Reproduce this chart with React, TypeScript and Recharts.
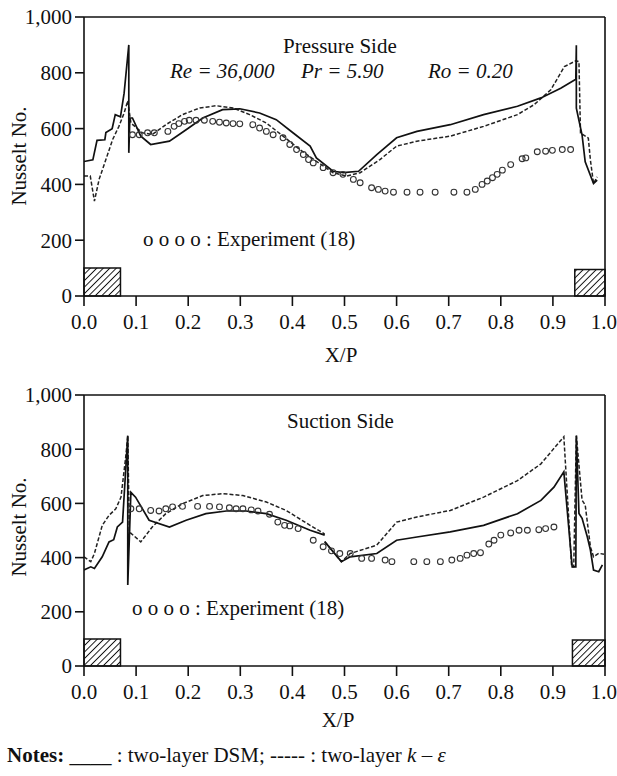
import React from "react";
import {
  ComposedChart,
  Line,
  Scatter,
  XAxis,
  YAxis,
  ReferenceArea,
  ReferenceLine,
} from "recharts";

type Pt = { x: number; y: number | null };
const P = (pairs: (number | null)[][]): Pt[] => pairs.map(([x, y]) => ({ x: x as number, y }));

// pressure side
const pressureDsm = P([
  [0, 482], [0.017, 488], [0.025, 558], [0.04, 560], [0.042, 586], [0.054, 600], [0.06, 650],
  [0.07, 642], [0.077, 727], [0.086, 900], [0.086, 513], [0.088, 638], [0.093, 638], [0.109, 573],
  [0.128, 543], [0.164, 555], [0.196, 596], [0.228, 638], [0.266, 668], [0.299, 671], [0.337, 656],
  [0.369, 632], [0.401, 585], [0.434, 537], [0.446, 495], [0.478, 447], [0.498, 442], [0.527, 447],
  [0.562, 507], [0.6, 567], [0.639, 590], [0.703, 614], [0.767, 650], [0.832, 680], [0.877, 710],
  [0.915, 745], [0.944, 777], [0.945, 899], [0.945, 673], [0.956, 577], [0.962, 481], [0.978, 403],
  [0.985, 415],
]);
const pressureKEps = P([
  [0, 430], [0.012, 430], [0.02, 340], [0.029, 418], [0.042, 489], [0.055, 561], [0.067, 608],
  [0.077, 656], [0.084, 700], [0.09, 620], [0.112, 585], [0.131, 579], [0.157, 614], [0.189, 650],
  [0.222, 674], [0.254, 682], [0.286, 674], [0.318, 650], [0.35, 620], [0.382, 573], [0.414, 525],
  [0.446, 483], [0.478, 442], [0.504, 430], [0.53, 442], [0.568, 489], [0.6, 537], [0.639, 555],
  [0.703, 573], [0.767, 608], [0.832, 650], [0.864, 686], [0.896, 739], [0.922, 822], [0.944, 843],
  [0.95, 840], [0.953, 584], [0.968, 566], [0.972, 487], [0.978, 403], [0.985, 427],
]);
const pressureExp = P([
  [0.093, 578], [0.106, 578], [0.122, 585], [0.135, 585], [0.161, 590], [0.173, 608], [0.182, 618],
  [0.193, 626], [0.202, 630], [0.215, 630], [0.231, 630], [0.247, 626], [0.26, 623], [0.273, 620],
  [0.286, 618], [0.299, 617], [0.324, 614], [0.337, 602], [0.35, 590], [0.363, 578], [0.382, 567],
  [0.395, 543], [0.408, 525], [0.421, 507], [0.431, 489], [0.44, 477], [0.459, 460], [0.478, 442],
  [0.497, 436], [0.517, 418], [0.53, 406], [0.552, 388], [0.565, 382], [0.578, 376], [0.594, 372],
  [0.62, 372], [0.645, 372], [0.674, 372], [0.71, 372], [0.735, 372], [0.751, 382], [0.764, 400],
  [0.774, 412], [0.784, 424], [0.793, 436], [0.803, 451], [0.819, 471], [0.841, 492], [0.848, 495],
  [0.87, 517], [0.886, 519], [0.899, 522], [0.918, 525], [0.934, 525],
]);

// suction side
const suctionDsm = P([
  [0, 354], [0.013, 366], [0.02, 360], [0.035, 403], [0.048, 458], [0.057, 466], [0.064, 513],
  [0.074, 531], [0.084, 850], [0.084, 299], [0.09, 641], [0.099, 623], [0.125, 538], [0.164, 513],
  [0.196, 538], [0.234, 562], [0.273, 572], [0.311, 572], [0.35, 562], [0.388, 538], [0.434, 501],
  [0.462, 483], [0.463, null], [0.462, 459], [0.494, 385], [0.511, 403], [0.562, 415], [0.6, 464],
  [0.639, 476], [0.703, 495], [0.767, 519], [0.832, 562], [0.877, 611], [0.902, 660], [0.921, 717],
  [0.937, 366], [0.944, 366], [0.945, 850], [0.95, 563], [0.956, 545], [0.966, 477], [0.972, 428],
  [0.978, 354], [0.988, 348], [0.995, 373],
]);
const suctionKEps = P([
  [0, 403], [0.013, 385], [0.02, 415], [0.035, 519], [0.048, 556], [0.061, 580], [0.071, 623],
  [0.08, 770], [0.084, 850], [0.087, 495], [0.109, 458], [0.131, 513], [0.157, 562], [0.189, 599],
  [0.228, 629], [0.266, 636], [0.305, 629], [0.35, 605], [0.388, 574], [0.434, 519], [0.462, 487],
  [0.463, null], [0.462, 459], [0.494, 385], [0.511, 415], [0.562, 446], [0.6, 531], [0.639, 550],
  [0.703, 574], [0.767, 623], [0.832, 684], [0.877, 746], [0.921, 846], [0.936, 366], [0.94, 366],
  [0.945, 850], [0.956, 612], [0.962, 594], [0.972, 440], [0.978, 403], [0.988, 416], [0.998, 412],
]);
const suctionExp = P([
  [0.09, 580], [0.106, 580], [0.128, 574], [0.144, 572], [0.157, 580], [0.17, 587], [0.189, 589],
  [0.218, 589], [0.241, 589], [0.26, 587], [0.279, 584], [0.292, 580], [0.305, 580], [0.321, 576],
  [0.334, 572], [0.356, 560], [0.372, 531], [0.385, 519], [0.395, 517], [0.411, 507], [0.44, 464],
  [0.459, 440], [0.475, 425], [0.491, 415], [0.511, 415], [0.533, 397], [0.552, 397], [0.578, 391],
  [0.591, 385], [0.633, 385], [0.658, 385], [0.684, 385], [0.706, 391], [0.722, 397], [0.735, 409],
  [0.748, 415], [0.761, 418], [0.777, 450], [0.787, 464], [0.8, 483], [0.819, 491], [0.835, 501],
  [0.851, 501], [0.873, 503], [0.886, 507], [0.902, 513],
]);

const xTicks = [0, 0.1, 0.2, 0.3, 0.4, 0.5, 0.6, 0.7, 0.8, 0.9, 1.0];
const yTicks = [0, 200, 400, 600, 800, 1000];
const leftBlock = { x1: 0, x2: 0.07, y2: 100 };
const pressureRightBlock = { x1: 0.942, x2: 1, y2: 95 };
const suctionRightBlock = { x1: 0.9375, x2: 1, y2: 96 };

const FONT = "'Liberation Serif', 'Times New Roman', serif";
const tickStyle = { fill: "#111", fontSize: 21, fontFamily: FONT };
const axisLine = { stroke: "#111", strokeWidth: 1.6 };

const OpenCircle = (props: any) => (
  <circle cx={props.cx} cy={props.cy} r={2.9} fill="none" stroke="#333" strokeWidth={1.1} />
);

function Panel({
  top,
  height,
  dsm,
  kEps,
  exp,
  rBlock,
}: {
  top: number;
  height: number;
  dsm: Pt[];
  kEps: Pt[];
  exp: Pt[];
  rBlock: { x1: number; x2: number; y2: number };
}) {
  return (
    <div style={{ position: "absolute", left: 0, top }}>
      <ComposedChart width={617} height={height} margin={{ top: 17, right: 12, left: 0, bottom: 54 }}>
        <XAxis
          type="number"
          dataKey="x"
          domain={[0, 1]}
          allowDataOverflow
          ticks={xTicks}
          tickFormatter={(v: number) => v.toFixed(1)}
          tick={tickStyle}
          tickSize={10}
          tickMargin={8}
          height={30}
          axisLine={axisLine}
          tickLine={axisLine}
        />
        <YAxis
          type="number"
          dataKey="y"
          domain={[0, 1000]}
          allowDataOverflow
          ticks={yTicks}
          tickFormatter={(v: number) => v.toLocaleString("en-US")}
          tick={tickStyle}
          tickSize={9}
          tickMargin={3}
          width={84}
          axisLine={axisLine}
          tickLine={axisLine}
        />
        <ReferenceLine y={1000} stroke="#111" strokeWidth={1.6} />
        <ReferenceLine x={1} stroke="#111" strokeWidth={1.6} />
        <ReferenceArea
          x1={leftBlock.x1}
          x2={leftBlock.x2}
          y1={0}
          y2={leftBlock.y2}
          fill="url(#hatch)"
          fillOpacity={1}
          stroke="#111"
          strokeWidth={1.5}
        />
        <ReferenceArea
          x1={rBlock.x1}
          x2={rBlock.x2}
          y1={0}
          y2={rBlock.y2}
          fill="url(#hatch)"
          fillOpacity={1}
          stroke="#111"
          strokeWidth={1.5}
        />
        <Scatter data={exp} dataKey="y" shape={OpenCircle} isAnimationActive={false} />
        <Line
          data={kEps}
          dataKey="y"
          type="linear"
          stroke="#222"
          strokeWidth={1.5}
          strokeDasharray="4 2"
          dot={false}
          activeDot={false}
          isAnimationActive={false}
        />
        <Line
          data={dsm}
          dataKey="y"
          type="linear"
          stroke="#111"
          strokeWidth={1.7}
          dot={false}
          activeDot={false}
          isAnimationActive={false}
        />
      </ComposedChart>
    </div>
  );
}

export default function App() {
  return (
    <div style={{ position: "absolute", left: 0, top: 0, width: 617, height: 776, background: "#fff" }}>
      <svg width={0} height={0} style={{ position: "absolute" }}>
        <defs>
          <pattern id="hatch" patternUnits="userSpaceOnUse" width={4.6} height={4.6} patternTransform="rotate(45)">
            <rect width={4.6} height={4.6} fill="#fff" />
            <line x1={0} y1={0} x2={0} y2={4.6} stroke="#111" strokeWidth={1.9} />
          </pattern>
        </defs>
      </svg>
      <Panel top={0} height={380} dsm={pressureDsm} kEps={pressureKEps} exp={pressureExp} rBlock={pressureRightBlock} />
      <Panel top={378} height={372} dsm={suctionDsm} kEps={suctionKEps} exp={suctionExp} rBlock={suctionRightBlock} />
      <svg
        width={617}
        height={776}
        style={{ position: "absolute", left: 0, top: 0, pointerEvents: "none" }}
        fontFamily={FONT}
        fontSize={21}
        fill="#111"
      >
        <text x={283} y={53}>Pressure Side</text>
        <text x={170} y={78} fontStyle="italic">Re = 36,000</text>
        <text x={301} y={78} fontStyle="italic">Pr = 5.90</text>
        <text x={428} y={78} fontStyle="italic">Ro = 0.20</text>
        <text x={143} y={246}>o o o o : Experiment (18)</text>
        <text x={287} y={428}>Suction Side</text>
        <text x={132} y={615}>o o o o : Experiment (18)</text>
        <text x={341} y={362} textAnchor="middle">X/P</text>
        <text x={338} y={727} textAnchor="middle">X/P</text>
        <text x={18.5} y={156} textAnchor="middle" dominantBaseline="central" transform="rotate(-90 18.5 156)">
          Nusselt No.
        </text>
        <text x={18.5} y={527} textAnchor="middle" dominantBaseline="central" transform="rotate(-90 18.5 527)">
          Nusselt No.
        </text>
        <text x={7} y={762}>
          <tspan fontWeight="bold">Notes:</tspan>
          <tspan> ____ : two-layer DSM; ----- : two-layer </tspan>
          <tspan fontStyle="italic">k</tspan>
          <tspan> – </tspan>
          <tspan fontStyle="italic">ε</tspan>
        </text>
      </svg>
    </div>
  );
}
